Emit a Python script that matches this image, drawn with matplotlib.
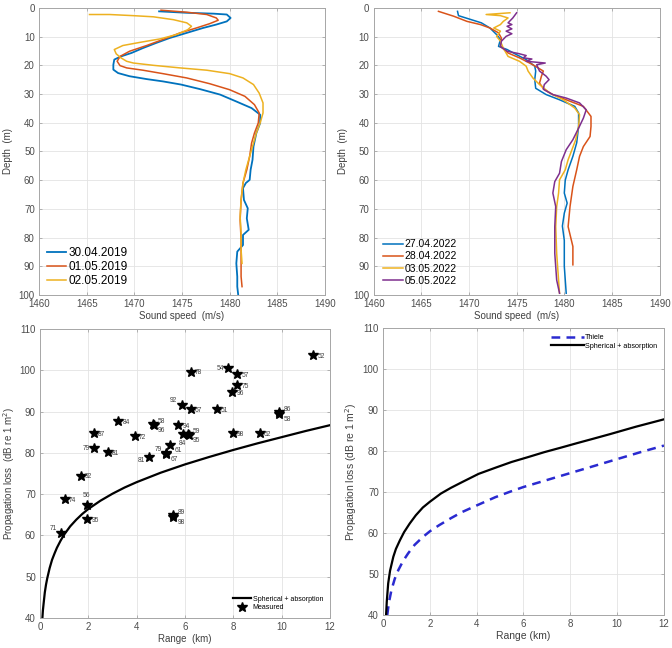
import matplotlib
matplotlib.use("Agg")
import matplotlib.pyplot as plt

plt.rcParams['font.family'] = ['Liberation Sans', 'DejaVu Sans']

# ---------------- Data ----------------
# Top-left: sound speed profiles 2019 (depth m, speed m/s)
d_300419 = [1.2, 1.7, 2.0, 2.3, 3.5, 4.7, 5.8, 7.0, 8.7, 10.5, 12.2, 14.0, 15.7, 16.9, 18.0, 19.8, 21.5, 22.7,
            23.8, 24.8, 25.6, 26.7, 28.3, 30.2, 32.6, 34.9, 37.2, 40.1, 43.6, 48.3, 52.9, 56.4, 59.9, 61.0,
            62.8, 66.9, 69.8, 73.3, 77.3, 79.1, 82.6, 84.9, 89.0, 93.6, 97.1, 100.0]
c_300419 = [1472.6, 1475.5, 1478.3, 1479.7, 1480.1, 1479.7, 1478.6, 1477.2, 1475.5, 1473.7, 1472.3, 1470.9,
            1469.7, 1468.6, 1467.9, 1467.8, 1467.8, 1468.3, 1469.5, 1471.3, 1473.0, 1474.9, 1476.9, 1479.0,
            1480.7, 1482.3, 1483.2, 1483.2, 1482.8, 1482.5, 1482.4, 1482.2, 1482.1, 1481.7, 1481.4, 1481.5,
            1481.9, 1481.8, 1482.0, 1481.4, 1481.4, 1480.8, 1480.7, 1480.8, 1480.8, 1480.9]
d_010519 = [0.8, 1.5, 2.3, 3.5, 4.3, 5.5, 7.0, 8.7, 11.0, 13.1, 15.1, 16.9, 18.6, 20.1, 20.9, 21.7, 22.9, 24.4,
            26.4, 28.5, 30.8, 33.7, 36.6, 40.1, 43.6, 47.1, 51.7, 56.4, 61.0, 66.9, 73.8, 80.8, 87.8, 93.6, 97.1]
c_010519 = [1472.8, 1475.5, 1477.6, 1478.6, 1478.8, 1477.9, 1476.5, 1474.8, 1473.0, 1471.3, 1469.5, 1468.5,
            1468.2, 1468.5, 1469.2, 1470.9, 1473.0, 1475.5, 1477.9, 1480.0, 1481.6, 1482.6, 1483.1, 1483.0,
            1482.6, 1482.3, 1482.1, 1481.8, 1481.4, 1481.2, 1481.1, 1481.2, 1481.2, 1481.2, 1481.3]
d_020519 = [2.3, 2.3, 2.7, 3.1, 4.1, 5.2, 6.4, 7.6, 9.3, 10.8, 12.0, 13.1, 14.5, 16.0, 17.4, 18.6, 19.2, 20.0,
            20.9, 21.7, 22.9, 24.4, 26.7, 29.7, 33.1, 36.6, 40.1, 43.6, 47.1, 51.7, 56.4, 61.0, 66.9, 72.7,
            78.5, 84.3, 89.0]
c_020519 = [1465.3, 1467.4, 1469.9, 1472.0, 1474.1, 1475.5, 1476.0, 1475.6, 1474.4, 1472.7, 1470.6, 1468.8,
            1467.9, 1468.1, 1468.6, 1469.2, 1469.9, 1472.0, 1474.8, 1477.6, 1480.0, 1481.4, 1482.5, 1483.1,
            1483.5, 1483.5, 1483.2, 1482.8, 1482.5, 1482.1, 1481.7, 1481.4, 1481.2, 1481.1, 1481.2, 1481.2,
            1481.3]

# Top-right: sound speed profiles 2022
d_270422 = [1.2, 2.7, 5.2, 7.0, 9.3, 11.0, 13.4, 14.5, 16.3, 18.0, 20.3, 22.0, 25.0, 28.0, 30.2, 32.0, 34.3,
            36.6, 41.3, 47.0, 51.7, 56.4, 60.0, 64.5, 68.0, 71.5, 76.0, 81.0, 90.0, 99.4]
c_270422 = [1468.8, 1468.9, 1471.3, 1472.2, 1472.9, 1473.3, 1473.1, 1474.0, 1475.0, 1476.0, 1476.9, 1477.0,
            1476.9, 1477.0, 1478.1, 1479.5, 1481.1, 1481.5, 1481.5, 1481.3, 1480.9, 1480.4, 1480.1, 1480.0,
            1480.3, 1480.0, 1479.8, 1480.0, 1480.0, 1480.2]
d_280422 = [1.2, 2.9, 4.7, 5.8, 7.0, 8.7, 10.5, 13.4, 15.7, 17.4, 19.8, 22.0, 23.8, 26.2, 28.5, 30.2, 32.0,
            34.3, 37.8, 41.3, 44.8, 48.3, 51.7, 56.4, 62.2, 69.2, 76.2, 83.1, 89.5]
c_280422 = [1466.8, 1468.4, 1469.8, 1471.2, 1472.2, 1473.1, 1473.4, 1473.3, 1474.1, 1475.3, 1476.7, 1477.8,
            1477.6, 1477.4, 1477.9, 1478.8, 1480.2, 1482.0, 1482.8, 1482.8, 1482.7, 1482.0, 1481.6, 1481.3,
            1480.9, 1480.6, 1480.4, 1480.9, 1480.9]
d_030522 = [1.7, 2.3, 2.7, 3.5, 4.7, 5.8, 7.0, 8.1, 9.9, 11.6, 14.0, 16.9, 18.6, 20.3, 22.0, 24.4, 26.7, 29.7,
            32.0, 34.9, 37.2, 41.3, 45.9, 49.4, 52.9, 56.4, 59.9, 64.5, 69.2, 76.2, 85.5, 94.8, 99.4]
c_030522 = [1474.3, 1471.8, 1473.3, 1474.1, 1473.6, 1473.3, 1472.6, 1473.3, 1472.9, 1473.3, 1473.6, 1474.1,
            1475.3, 1476.0, 1476.2, 1476.7, 1477.4, 1478.5, 1479.9, 1481.1, 1481.6, 1481.5, 1481.2, 1480.8,
            1480.4, 1480.1, 1479.5, 1479.4, 1479.2, 1479.1, 1479.2, 1479.4, 1479.5]
d_050522 = [1.7, 3.5, 5.2, 5.8, 6.4, 7.3, 8.1, 9.0, 9.9, 11.6, 13.4, 15.1, 15.9, 16.6, 17.4, 17.8, 18.6, 19.2,
            19.8, 22.0, 23.8, 25.0, 26.7, 28.3, 30.2, 31.4, 33.1, 35.5, 38.4, 41.9, 45.9, 49.4, 53.5, 57.6,
            60.5, 64.5, 69.2, 76.2, 85.5, 94.8, 99.4]
c_050522 = [1475.0, 1474.6, 1474.1, 1474.5, 1474.0, 1474.5, 1473.9, 1474.5, 1473.9, 1473.4, 1473.3, 1474.0,
            1475.2, 1476.0, 1475.7, 1476.6, 1476.0, 1478.0, 1477.1, 1477.4, 1478.1, 1478.4, 1477.9, 1477.8,
            1478.8, 1480.2, 1481.6, 1482.3, 1482.0, 1481.5, 1480.9, 1480.2, 1479.7, 1479.5, 1479.0, 1478.8,
            1479.1, 1479.0, 1479.0, 1479.2, 1479.5]

# Bottom-left: model curve and measured points
model_r = [0.1, 0.12, 0.15, 0.2, 0.25, 0.3, 0.4, 0.5, 0.6, 0.7, 0.85, 1.0, 1.25, 1.5, 1.75, 2.0, 2.5, 3.0,
           3.5, 4.0, 5.0, 6.0, 7.0, 8.0, 9.0, 10.0, 11.0, 12.0]
model_tl = [40.0, 41.8, 43.5, 46.2, 48.1, 49.6, 52.1, 54.1, 55.6, 57.0, 58.7, 60.2, 62.2, 63.8, 65.2, 66.4,
            68.4, 70.1, 71.6, 72.9, 75.2, 77.2, 79.0, 80.7, 82.3, 83.8, 85.3, 86.7]
meas_r = [11.31, 6.23, 7.79, 8.17, 8.17, 7.96, 5.86, 6.23, 7.31, 9.90, 9.90, 3.24, 4.69, 4.72, 5.72, 2.23,
          3.93, 5.90, 6.14, 6.17, 7.97, 9.10, 5.38, 2.25, 2.80, 5.21, 5.23, 4.51, 1.68, 1.03, 1.93, 1.96,
          0.87, 5.52, 5.52]
meas_tl = [103.7, 99.7, 100.5, 99.0, 96.5, 94.7, 91.6, 90.6, 90.6, 89.8, 89.5, 87.6, 86.9, 86.8, 86.8, 84.8,
           84.0, 84.5, 84.5, 84.4, 84.9, 84.9, 81.9, 81.1, 80.2, 79.9, 79.7, 79.1, 74.5, 68.8, 67.4, 64.0,
           60.7, 65.0, 64.4]
meas_id = ['52', '78', '54', '57', '75', '96', '92', '67', '51', '86', '58', '84', '58', '96', '94', '87',
           '72', '84', '59', '95', '98', '62', '61', '79', '81', '79', '67', '81', '92', '74', '56', '95',
           '71', '89', '98']
# label placement code: r=right, ru=right-up, rd=right-down, l=left, lu=left-up, ld=left-down, u=up, d=down
meas_pos = ['r', 'r', 'l', 'r', 'r', 'r', 'lu', 'r', 'r', 'ru', 'rd', 'r', 'ru', 'rd', 'r', 'r',
            'r', 'd', 'ru', 'rd', 'r', 'r', 'rd', 'l', 'r', 'lu', 'rd', 'ld', 'r', 'r', 'u', 'r',
            'lu', 'ru', 'rd']

# Bottom-right: Thiele vs spherical + absorption
sph_r = [0.13, 0.16, 0.22, 0.3, 0.44, 0.55, 0.72, 0.9, 1.14, 1.4, 1.7, 2.0, 2.47, 2.9, 3.38, 4.08, 4.8, 5.49,
         6.2, 6.89, 7.6, 8.29, 9.0, 9.7, 10.8, 12.0]
sph_tl = [40.0, 43.3, 47.7, 50.8, 54.2, 56.1, 58.2, 60.2, 62.3, 64.3, 66.2, 67.6, 69.6, 71.0, 72.4, 74.4,
          75.9, 77.3, 78.5, 79.7, 80.8, 81.9, 83.0, 84.1, 85.9, 87.7]
thiele_r = [0.18, 0.25, 0.36, 0.5, 0.65, 0.85, 1.07, 1.35, 1.7, 2.0, 2.4, 2.9, 3.38, 4.0, 4.79, 5.4, 6.0,
            7.0, 8.0, 9.0, 10.0, 11.0, 12.0]
thiele_tl = [40.0, 43.0, 46.1, 48.8, 50.9, 53.1, 55.0, 57.1, 59.0, 60.4, 61.9, 63.6, 65.1, 66.7, 68.7, 70.0,
             71.2, 72.9, 74.6, 76.3, 78.0, 79.7, 81.3]

# ---------------- Style ----------------
C_BLUE = '#0072BD'
C_ORANGE = '#D95319'
C_YELLOW = '#EDB120'
C_PURPLE = '#7E2F8E'
TICK_C = '#4D4D4D'
SPINE_C = '#A6A6A6'
GRID_C = '#E3E3E3'


def style_axes(ax):
    for s in ax.spines.values():
        s.set_color(SPINE_C)
        s.set_linewidth(0.7)
    ax.tick_params(direction='in', length=2.5, width=0.6, colors=SPINE_C, labelcolor=TICK_C,
                   labelsize=7, top=True, right=True, pad=3)
    ax.grid(True, color=GRID_C, linewidth=0.6)
    ax.set_axisbelow(True)


fig = plt.figure(figsize=(6.72, 6.48), dpi=100)

# Top-left
ax1 = fig.add_axes([0.058, 0.5448, 0.4256, 0.443])
ax1.plot(c_300419, d_300419, color=C_BLUE, lw=1.3, label='30.04.2019')
ax1.plot(c_010519, d_010519, color=C_ORANGE, lw=1.1, label='01.05.2019')
ax1.plot(c_020519, d_020519, color=C_YELLOW, lw=1.1, label='02.05.2019')
ax1.set_xlim(1460, 1490)
ax1.set_ylim(100, 0)
ax1.set_xticks([1460, 1465, 1470, 1475, 1480, 1485, 1490])
ax1.set_yticks(range(0, 101, 10))
style_axes(ax1)
ax1.set_xlabel('Sound speed  (m/s)', fontsize=7, color='#404040', labelpad=1)
ax1.set_ylabel('Depth  (m)', fontsize=7, color='#404040', labelpad=4)
ax1.legend(loc='lower left', frameon=False, fontsize=8.5, handlelength=1.6, handletextpad=0.2,
           labelspacing=0.15, borderaxespad=0.3)

# Top-right
ax2 = fig.add_axes([0.556, 0.5448, 0.4256, 0.443])
ax2.plot(c_270422, d_270422, color=C_BLUE, lw=1.1, label='27.04.2022')
ax2.plot(c_280422, d_280422, color=C_ORANGE, lw=1.1, label='28.04.2022')
ax2.plot(c_030522, d_030522, color=C_YELLOW, lw=1.1, label='03.05.2022')
ax2.plot(c_050522, d_050522, color=C_PURPLE, lw=1.1, label='05.05.2022')
ax2.set_xlim(1460, 1490)
ax2.set_ylim(100, 0)
ax2.set_xticks([1460, 1465, 1470, 1475, 1480, 1485, 1490])
ax2.set_yticks(range(0, 101, 10))
style_axes(ax2)
ax2.set_xlabel('Sound speed  (m/s)', fontsize=7, color='#404040', labelpad=1)
ax2.set_ylabel('Depth  (m)', fontsize=7, color='#404040', labelpad=4)
ax2.legend(loc='lower left', frameon=False, fontsize=7.5, handlelength=1.9, handletextpad=0.2,
           labelspacing=0.2, borderaxespad=0.5)

# Bottom-left
ax3 = fig.add_axes([0.0595, 0.0463, 0.4315, 0.446])
ax3.plot(model_r, model_tl, color='black', lw=1.6, label='Spherical + absorption')
ax3.plot(meas_r, meas_tl, linestyle='none', marker='*', color='black', ms=7, label='Measured')
offs = {'r': (3, -1, 'left', 'center'), 'ru': (3, 2, 'left', 'center'), 'rd': (3, -4, 'left', 'center'),
        'l': (-3, 0, 'right', 'center'), 'lu': (-3, 3, 'right', 'center'), 'ld': (-3, -3, 'right', 'center'),
        'u': (0, 4, 'center', 'bottom'), 'd': (0, -4, 'center', 'top')}
for xr, yt, lab, p in zip(meas_r, meas_tl, meas_id, meas_pos):
    dx, dy, ha, va = offs[p]
    ax3.annotate(lab, (xr, yt), xytext=(dx, dy), textcoords='offset points', ha=ha, va=va,
                 fontsize=4.8, color='#404040')
ax3.set_xlim(0, 12)
ax3.set_ylim(40, 110)
ax3.set_xticks(range(0, 13, 2))
ax3.set_yticks(range(40, 111, 10))
style_axes(ax3)
ax3.set_xlabel('Range  (km)', fontsize=7, color='#404040', labelpad=1)
ax3.set_ylabel('Propagation loss  (dB re 1 m$^2$)', fontsize=7, color='#404040', labelpad=2)
ax3.legend(loc='lower right', frameon=False, fontsize=5, handlelength=2.6, handletextpad=0.2,
           labelspacing=0.2, borderaxespad=0.6)

# Bottom-right
ax4 = fig.add_axes([0.570, 0.051, 0.418, 0.443])
ax4.plot(thiele_r, thiele_tl, color='#2A2AD0', lw=1.8, linestyle=(0, (3.5, 2.5)), label='Thiele')
ax4.plot(sph_r, sph_tl, color='black', lw=1.6, label='Spherical + absorption')
ax4.set_xlim(0, 12)
ax4.set_ylim(40, 110)
ax4.set_xticks(range(0, 13, 2))
ax4.set_yticks(range(40, 111, 10))
style_axes(ax4)
ax4.set_xlabel('Range (km)', fontsize=7.5, color='#404040', labelpad=1)
ax4.set_ylabel('Propagation loss (dB re 1 m$^2$)', fontsize=7.5, color='#404040', labelpad=3)
ax4.legend(loc='upper right', frameon=False, fontsize=5.2, handlelength=4.5, handletextpad=0.2,
           labelspacing=0.2, borderaxespad=0.5)

fig.savefig('out.png', dpi=100)
